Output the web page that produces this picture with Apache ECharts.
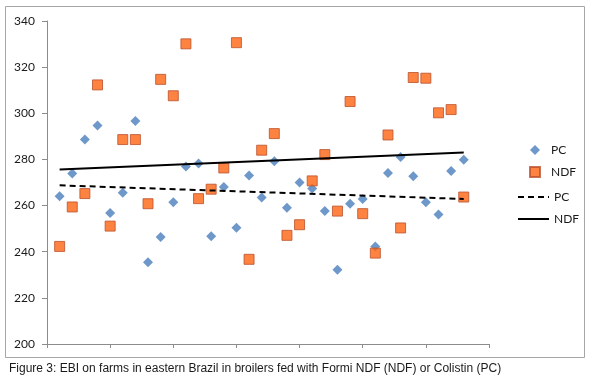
<!DOCTYPE html>
<html>
<head>
<meta charset="utf-8">
<script src="https://cdn.jsdelivr.net/npm/echarts@6/dist/echarts.min.js"></script>
<style>
html,body{margin:0;padding:0;background:#fff;}
#chart{width:600px;height:377px;}
</style>
</head>
<body>
<div id="chart"></div>
<script>
// Sample index (x) for each farm
var farmIndex = [1,2,3,4,5,6,7,8,9,10,11,12,13,14,15,16,17,18,19,20,21,22,23,24,25,26,27,28,29,30,31,32,33];
// EBI values, Colistin (PC)
var pcValues = [264.0,273.9,288.6,294.7,256.8,265.6,296.7,235.4,246.4,261.4,276.9,278.2,246.7,268.1,250.4,273.0,263.5,279.2,259.1,270.0,267.4,257.6,232.2,260.8,262.8,242.3,274.1,281.1,272.7,261.4,256.1,275.0,279.9];
// EBI values, Formi NDF (NDF)
var ndfValues = [242.3,259.4,265.2,312.3,251.1,288.6,288.6,260.8,314.7,307.6,330.1,263.0,267.1,276.3,330.6,236.7,284.0,291.2,247.1,251.7,270.7,282.1,257.6,305.1,256.5,239.4,290.6,250.3,315.5,315.2,300.2,301.6,263.7];
var yTicks = [200,220,240,260,280,300,320,340];
var caption = 'Figure 3: EBI on farms in eastern Brazil in broilers fed with Formi NDF (NDF) or Colistin (PC)';

function pairs(xs, ys){ return xs.map(function(x,i){ return [x, ys[i]]; }); }
function trend(xs, ys){
  var n = xs.length, sx=0, sy=0, sxx=0, sxy=0;
  for (var i=0;i<n;i++){ sx+=xs[i]; sy+=ys[i]; sxx+=xs[i]*xs[i]; sxy+=xs[i]*ys[i]; }
  var b = (n*sxy - sx*sy)/(n*sxx - sx*sx);
  var a = (sy - b*sx)/n;
  var x0 = xs[0], x1 = xs[n-1];
  return [[x0, a+b*x0],[x1, a+b*x1]];
}

var chart = echarts.init(document.getElementById('chart'), null, {renderer:'canvas'});
var axisColor = '#8c8c8c';
var option = {
  animation: false,
  backgroundColor: '#fff',
  textStyle: {fontFamily: 'Lato, "Open Sans", sans-serif'},
  grid: {left: 47, right: 111, top: 21, bottom: 33},
  xAxis: {
    type: 'value', min: 0, max: 35, interval: 5,
    axisLine: {show: true, lineStyle: {color: axisColor, width: 1}},
    axisTick: {show: true, length: 4, lineStyle: {color: axisColor}},
    axisLabel: {show: false},
    splitLine: {show: false}
  },
  yAxis: {
    type: 'value', min: yTicks[0], max: yTicks[yTicks.length-1], interval: yTicks[1]-yTicks[0],
    axisLine: {show: true, lineStyle: {color: axisColor, width: 1}},
    axisTick: {show: true, length: 5, lineStyle: {color: axisColor}},
    axisLabel: {margin: 12, fontSize: 12, color: '#1a1a1a', fontFamily: 'Lato, "Open Sans", sans-serif'},
    splitLine: {show: false}
  },
  legend: [{
    data: ['PC','NDF'],
    orient: 'vertical', left: 524, top: 139,
    itemWidth: 10, itemHeight: 10, itemGap: 10,
    textStyle: {fontSize: 12, color: '#1a1a1a', padding: [0,0,0,6]}
  },{
    data: ['PC trend','NDF trend'],
    orient: 'vertical', left: 512, top: 186,
    itemWidth: 31, itemHeight: 14, itemGap: 10,
    itemStyle: {opacity: 0},
    formatter: function(n){ return n.replace(' trend',''); },
    textStyle: {fontSize: 12, color: '#1a1a1a'}
  }],
  title: {
    text: caption, left: 4, top: 358,
    textStyle: {fontSize: 12, fontWeight: 'normal', color: '#1a1a1a', fontFamily: '"Liberation Sans", Arial, sans-serif'}
  },
  graphic: [{
    type: 'rect', shape: {x: 5.5, y: 6.5, width: 579, height: 351},
    style: {fill: 'none', stroke: '#a6a6a6', lineWidth: 1}, silent: true, z: -1
  }],
  series: [{
    name: 'PC', type: 'scatter', symbol: 'diamond', symbolSize: 10,
    itemStyle: {color: '#4A7EBB'},
    data: pairs(farmIndex, pcValues), z: 3
  },{
    name: 'NDF', type: 'scatter', symbol: 'rect', symbolSize: 10,
    itemStyle: {color: '#FF6410', borderColor: '#B9502D', borderWidth: 1},
    data: pairs(farmIndex, ndfValues), z: 3
  },{
    name: 'PC trend', type: 'line', symbol: 'none',
    lineStyle: {color: '#000', width: 2, type: [6,4]},
    itemStyle: {color: '#000'},
    data: trend(farmIndex, pcValues), z: 4
  },{
    name: 'NDF trend', type: 'line', symbol: 'none',
    lineStyle: {color: '#000', width: 2},
    itemStyle: {color: '#000'},
    data: trend(farmIndex, ndfValues), z: 4
  }]
};
chart.setOption(option);
</script>
</body>
</html>
